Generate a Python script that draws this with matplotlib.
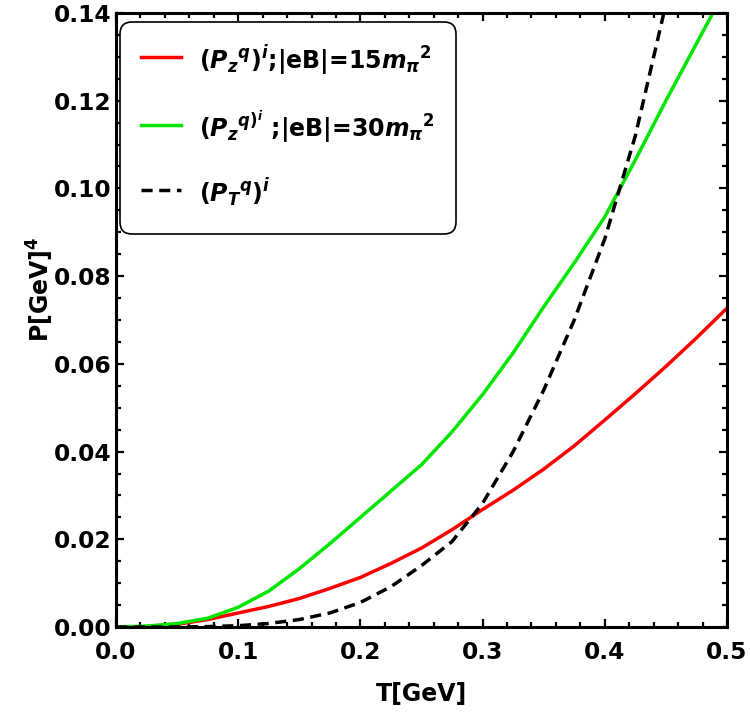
import numpy as np
import matplotlib
matplotlib.use("Agg")
import matplotlib.pyplot as plt
from matplotlib.ticker import MultipleLocator, FormatStrFormatter

plt.rcParams["font.family"] = ["DejaVu Sans"]
plt.rcParams["font.weight"] = "bold"
plt.rcParams["mathtext.fontset"] = "custom"
plt.rcParams["mathtext.rm"] = "DejaVu Sans:bold"
plt.rcParams["mathtext.it"] = "DejaVu Sans:bold:italic"
plt.rcParams["mathtext.bf"] = "DejaVu Sans:bold"

# temperature grid (GeV)
T = [0.0, 0.025, 0.05, 0.075, 0.1, 0.125, 0.15, 0.175, 0.2, 0.225, 0.25,
     0.275, 0.3, 0.325, 0.35, 0.375, 0.4, 0.425, 0.45, 0.475, 0.5]

# (P_z^q)^i, |eB| = 15 m_pi^2
p_z15 = [0.0, 0.0001, 0.0006, 0.0017, 0.0032, 0.0047, 0.0065, 0.0088, 0.0113,
         0.0145, 0.0180, 0.0222, 0.0268, 0.0312, 0.0360, 0.0413, 0.0472,
         0.0532, 0.0594, 0.0659, 0.0727]

# (P_z^q)^i, |eB| = 30 m_pi^2
p_z30 = [0.0, 0.0002, 0.0008, 0.0020, 0.0045, 0.0082, 0.0133, 0.0190, 0.0250,
         0.0310, 0.0370, 0.0445, 0.0530, 0.0625, 0.0730, 0.0830, 0.0935,
         0.1065, 0.1200, 0.1330, 0.1460]

# (P_T^q)^i
p_t = [0.0, 0.0, 0.0, 0.0001, 0.0003, 0.0008, 0.0017, 0.0032, 0.0056, 0.0092,
       0.0140, 0.0195, 0.0282, 0.0400, 0.0540, 0.0700, 0.0885, 0.1120,
       0.1420, 0.1750, 0.2100]

labels = [r"$(P_z{}^q)^i$;|eB|=15$m_\pi{}^2$",
          r"$(P_z{}^{q)^{i}}$ ;|eB|=30$m_\pi{}^2$",
          r"$(P_T{}^q)^i$"]

fig = plt.figure(figsize=(7.5, 7.13), dpi=100)
ax = fig.add_axes([0.1547, 0.1206, 0.8146, 0.8612])

ax.plot(T, p_z15, color="#ff0000", linewidth=2.5, label=labels[0])
ax.plot(T, p_z30, color="#00e600", linewidth=2.5, label=labels[1])
ax.plot(T, p_t, color="black", linewidth=2.5, linestyle=(0, (3.2, 1.9)), label=labels[2])

ax.set_xlim(0, 0.5)
ax.set_ylim(0, 0.14)
ax.xaxis.set_major_locator(MultipleLocator(0.1))
ax.xaxis.set_minor_locator(MultipleLocator(0.02))
ax.yaxis.set_major_locator(MultipleLocator(0.02))
ax.yaxis.set_minor_locator(MultipleLocator(0.005))
ax.xaxis.set_major_formatter(FormatStrFormatter("%.1f"))
ax.yaxis.set_major_formatter(FormatStrFormatter("%.2f"))
ax.tick_params(which="both", direction="in", top=True, right=True, width=1.6,
               labelsize=16.8)
ax.tick_params(which="major", length=6)
ax.tick_params(which="minor", length=3.5)
ax.tick_params(axis="x", which="major", pad=10)
ax.tick_params(axis="y", which="major", pad=3)
for s in ax.spines.values():
    s.set_linewidth(2.2)

ax.set_xlabel("T[GeV]", fontsize=17, fontweight="bold", labelpad=13)
ax.set_ylabel(r"P[GeV]$^4$", fontsize=17, fontweight="bold")
ax.yaxis.set_label_coords(-0.098, 0.55)

leg = ax.legend(loc="upper left", bbox_to_anchor=(0.0065, 0.985),
                borderaxespad=0, fontsize=17, handlelength=1.7,
                handleheight=1.9, handletextpad=0.75, labelspacing=1.25,
                borderpad=0.9, fancybox=True, framealpha=1,
                edgecolor="black")
leg.get_frame().set_linewidth(1.2)
leg.get_frame().set_boxstyle("round", pad=0, rounding_size=0.5)

fig.savefig("out.png", dpi=100)
